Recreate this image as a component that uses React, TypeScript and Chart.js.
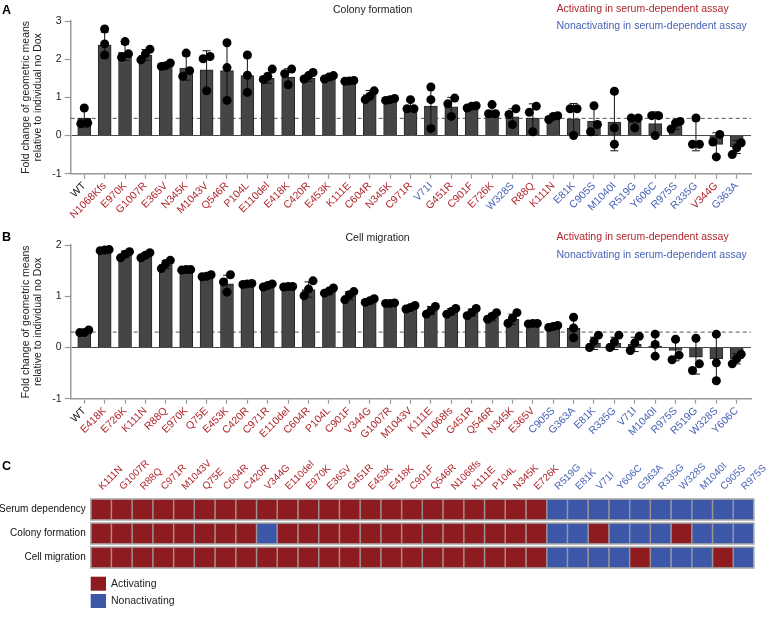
import React, { useEffect, useRef } from 'react';
import { Chart, registerables } from 'chart.js';

Chart.register(...registerables);

const FONT = '"Liberation Sans", Arial, Helvetica, sans-serif';
const RED = '#b0262c';
const BLUE = '#4863b6';
const CELL_RED = '#8e1b1f';
const CELL_BLUE = '#3d57a8';

// ---------- Panel A: Colony formation ----------
const aLabels = ['WT', 'N1068Kfs', 'E970K', 'G1007R', 'E365V', 'N345K', 'M1043V', 'Q546R', 'P104L', 'E110del', 'E418K', 'C420R', 'E453K', 'K111E', 'C604R', 'N345K', 'C971R', 'V71I', 'G451R', 'C901F', 'E726K', 'W328S', 'R88Q', 'K111N', 'E81K', 'C905S', 'M1040I', 'R519G', 'Y606C', 'R975S', 'R335G', 'V344G', 'G363A'];
const aClass = ['W', 'A', 'A', 'A', 'A', 'A', 'A', 'A', 'A', 'A', 'A', 'A', 'A', 'A', 'A', 'A', 'A', 'N', 'A', 'A', 'A', 'N', 'A', 'A', 'N', 'N', 'N', 'N', 'N', 'N', 'N', 'A', 'N'];
const aMeans = [0.45, 2.37, 2.18, 2.11, 1.85, 1.77, 1.72, 1.70, 1.57, 1.50, 1.53, 1.50, 1.49, 1.43, 1.07, 0.94, 0.77, 0.77, 0.75, 0.75, 0.62, 0.49, 0.46, 0.49, 0.44, 0.37, 0.35, 0.35, 0.31, 0.26, 0.0, -0.23, -0.30];
const aSD = [0.23, 0.34, 0.21, 0.14, 0.05, 0.32, 0.50, 0.76, 0.49, 0.13, 0.22, 0.08, 0.05, 0.02, 0.11, 0.03, 0.14, 0.52, 0.25, 0.03, 0.14, 0.21, 0.37, 0.05, 0.40, 0.36, 0.75, 0.15, 0.31, 0.10, 0.40, 0.30, 0.17];
const aRep1 = [0.72, 2.79, 2.46, 2.26, 1.90, 2.16, 2.07, 2.43, 2.11, 1.74, 1.74, 1.65, 1.57, 1.44, 1.17, 0.97, 0.94, 1.27, 0.98, 0.72, 0.81, 0.70, 0.77, 0.52, 0.70, 0.78, 1.16, 0.46, 0.52, 0.37, 0.46, 0.03, -0.19];
const aRep2 = [0.31, 2.40, 2.05, 1.98, 1.83, 1.70, 2.01, 1.78, 1.58, 1.47, 1.62, 1.48, 1.48, 1.42, 1.03, 0.92, 0.70, 0.94, 0.83, 0.78, 0.57, 0.55, 0.61, 0.42, 0.70, 0.29, 0.20, 0.46, 0.52, 0.33, -0.23, -0.17, -0.32];
const aRep3 = [0.33, 2.11, 2.14, 2.14, 1.81, 1.55, 1.17, 0.92, 1.13, 1.55, 1.33, 1.57, 1.53, 1.43, 0.94, 0.94, 0.70, 0.18, 0.50, 0.77, 0.57, 0.29, 0.10, 0.50, 0.00, 0.10, -0.23, 0.20, 0.00, 0.17, -0.23, -0.56, -0.50];
const aYTicks = [-1, 0, 1, 2, 3];

// ---------- Panel B: Cell migration ----------
const bLabels = ['WT', 'E418K', 'E726K', 'K111N', 'R88Q', 'E970K', 'Q75E', 'E453K', 'C420R', 'C971R', 'E110del', 'C604R', 'P104L', 'C901F', 'V344G', 'G1007R', 'M1043V', 'K111E', 'N1068fs', 'G451R', 'Q546R', 'N345K', 'E365V', 'C905S', 'G363A', 'E81K', 'R335G', 'V71I', 'M1040I', 'R975S', 'R519G', 'W328S', 'Y606C'];
const bClass = ['W', 'A', 'A', 'A', 'A', 'A', 'A', 'A', 'A', 'A', 'A', 'A', 'A', 'A', 'A', 'A', 'A', 'A', 'A', 'A', 'A', 'A', 'A', 'N', 'N', 'N', 'N', 'N', 'N', 'N', 'N', 'N', 'N'];
const bMeans = [0.30, 1.90, 1.82, 1.80, 1.62, 1.52, 1.40, 1.24, 1.24, 1.21, 1.19, 1.13, 1.08, 1.01, 0.90, 0.86, 0.78, 0.72, 0.70, 0.68, 0.59, 0.55, 0.47, 0.41, 0.38, 0.08, 0.08, 0.06, 0.02, -0.06, -0.19, -0.22, -0.22];
const bSD = [0.03, 0.01, 0.06, 0.05, 0.08, 0.01, 0.02, 0.17, 0.01, 0.03, 0.01, 0.15, 0.05, 0.08, 0.04, 0.01, 0.04, 0.08, 0.06, 0.07, 0.07, 0.10, 0.01, 0.02, 0.20, 0.12, 0.12, 0.14, 0.21, 0.20, 0.33, 0.46, 0.10];
const bRep1 = [0.34, 1.90, 1.87, 1.85, 1.70, 1.52, 1.42, 1.42, 1.25, 1.24, 1.19, 1.30, 1.16, 1.09, 0.95, 0.87, 0.82, 0.80, 0.76, 0.76, 0.68, 0.68, 0.47, 0.43, 0.59, 0.24, 0.24, 0.22, 0.26, 0.16, 0.18, 0.26, -0.13];
const bRep2 = [0.29, 1.91, 1.75, 1.75, 1.64, 1.51, 1.39, 1.28, 1.24, 1.18, 1.19, 1.14, 1.06, 0.93, 0.88, 0.86, 0.75, 0.65, 0.65, 0.62, 0.55, 0.47, 0.47, 0.39, 0.38, 0.12, 0.11, 0.09, 0.06, -0.15, -0.32, -0.30, -0.22];
const bRep3 = [0.29, 1.89, 1.82, 1.80, 1.54, 1.52, 1.38, 1.08, 1.23, 1.21, 1.18, 1.01, 1.10, 1.03, 0.91, 0.86, 0.78, 0.72, 0.70, 0.68, 0.61, 0.57, 0.46, 0.41, 0.19, 0.00, 0.00, -0.06, -0.17, -0.24, -0.45, -0.65, -0.32];
const bYTicks = [-1, 0, 1, 2];

// ---------- Panel C: heatmap (1 = activating, 0 = nonactivating) ----------
const cLabels = ['K111N', 'G1007R', 'R88Q', 'C971R', 'M1043V', 'Q75E', 'C604R', 'C420R', 'V344G', 'E110del', 'E970K', 'E365V', 'G451R', 'E453K', 'E418K', 'C901F', 'Q546R', 'N1068fs', 'K111E', 'P104L', 'N345K', 'E726K', 'R519G', 'E81K', 'V71I', 'Y606C', 'G363A', 'R335G', 'W328S', 'M1040I', 'C905S', 'R975S'];
const cRowNames = ['Serum dependency', 'Colony formation', 'Cell migration'];
const cSerum = [1, 1, 1, 1, 1, 1, 1, 1, 1, 1, 1, 1, 1, 1, 1, 1, 1, 1, 1, 1, 1, 1, 0, 0, 0, 0, 0, 0, 0, 0, 0, 0];
const cColony = [1, 1, 1, 1, 1, 1, 1, 1, 0, 1, 1, 1, 1, 1, 1, 1, 1, 1, 1, 1, 1, 1, 0, 0, 1, 0, 0, 0, 1, 0, 0, 0];
const cMigration = [1, 1, 1, 1, 1, 1, 1, 1, 1, 1, 1, 1, 1, 1, 1, 1, 1, 1, 1, 1, 1, 1, 0, 0, 0, 0, 1, 0, 0, 0, 1, 0];
const cLegend = ['Activating', 'Nonactivating'];

const classColor = (c: string) => (c === 'A' ? RED : c === 'N' ? BLUE : '#111');

function buildDots(reps: number[][], thr: number) {
  const pts: { x: number; y: number }[] = [];
  const n = reps[0].length;
  for (let i = 0; i < n; i++) {
    const vals = reps.map((r) => r[i]);
    const order = vals.map((_, k) => k).sort((p, q) => vals[p] - vals[q]);
    const clusters: number[][] = [];
    let cur = [order[0]];
    for (let k = 1; k < order.length; k++) {
      if (vals[order[k]] - vals[order[k - 1]] < thr) cur.push(order[k]);
      else {
        clusters.push(cur);
        cur = [order[k]];
      }
    }
    clusters.push(cur);
    clusters.forEach((cl) => {
      const step = cl.length === 2 ? 0.34 : 0.22;
      cl.forEach((k, j) => {
        const off = cl.length === 1 ? 0 : (j - (cl.length - 1) / 2) * step;
        pts.push({ x: i + off, y: vals[k] });
      });
    });
  }
  return pts;
}

function decorPlugin(d: { letter: string; letterY: number; title: string; titleX: number; titleY: number; legY: number }) {
  return {
    id: 'decor',
    afterDraw(chart: any) {
      const ctx = chart.ctx;
      ctx.save();
      ctx.textAlign = 'left';
      ctx.textBaseline = 'alphabetic';
      ctx.fillStyle = '#000';
      ctx.font = `bold 12.5px ${FONT}`;
      ctx.fillText(d.letter, 2, d.letterY);
      ctx.textBaseline = 'middle';
      ctx.font = `10.5px ${FONT}`;
      ctx.fillStyle = '#222';
      ctx.fillText(d.title, d.titleX, d.titleY);
      ctx.fillStyle = RED;
      ctx.fillText('Activating in serum-dependent assay', 556.5, d.legY);
      ctx.fillStyle = BLUE;
      ctx.fillText('Nonactivating in serum-dependent assay', 556.5, d.legY + 17.5);
      ctx.restore();
    },
  };
}

function statsPlugin(means: number[], sds: number[]) {
  return {
    id: 'stats',
    beforeDatasetsDraw(chart: any) {
      const { ctx, chartArea, scales } = chart;
      const y = scales.y.getPixelForValue(means[0]);
      ctx.save();
      ctx.strokeStyle = '#555';
      ctx.lineWidth = 1;
      ctx.setLineDash([4, 3]);
      ctx.beginPath();
      ctx.moveTo(chartArea.left, y);
      ctx.lineTo(chartArea.right, y);
      ctx.stroke();
      ctx.restore();
    },
    afterDatasetDraw(chart: any, args: any) {
      if (args.index !== 0) return;
      const { ctx, scales } = chart;
      ctx.save();
      ctx.strokeStyle = '#111';
      ctx.lineWidth = 1;
      means.forEach((m, i) => {
        const x = scales.x.getPixelForValue(i);
        const yt = scales.y.getPixelForValue(m + sds[i]);
        const yb = scales.y.getPixelForValue(m - sds[i]);
        ctx.beginPath();
        ctx.moveTo(x, yb);
        ctx.lineTo(x, yt);
        ctx.moveTo(x - 4, yt);
        ctx.lineTo(x + 4, yt);
        ctx.moveTo(x - 4, yb);
        ctx.lineTo(x + 4, yb);
        ctx.stroke();
      });
      ctx.restore();
    },
  };
}

function barConfig(p: any) {
  const { labels, cls, means, sds, reps, yTicks, padTop, height, areaBottom, thr, decor } = p;
  return {
    type: 'bar',
    data: {
      datasets: [
        {
          type: 'bar',
          data: means.map((m: number, i: number) => ({ x: i, y: m })),
          backgroundColor: '#454545',
          borderColor: '#262626',
          borderWidth: 1,
          barThickness: 13,
          order: 2,
        },
        {
          type: 'scatter',
          data: buildDots(reps, thr),
          backgroundColor: '#000',
          pointRadius: 4.5,
          borderWidth: 0,
          order: 1,
        },
      ],
    },
    options: {
      responsive: false,
      animation: false,
      devicePixelRatio: 1,
      events: [],
      layout: { padding: { left: 0, right: 17, top: padTop, bottom: 0 } },
      plugins: { legend: { display: false }, tooltip: { enabled: false } },
      scales: {
        x: {
          type: 'linear',
          min: -0.665,
          max: labels.length - 0.3,
          offset: false,
          afterBuildTicks: (s: any) => {
            s.ticks = labels.map((_: string, i: number) => ({ value: i }));
          },
          afterFit: (s: any) => {
            s.height = height - areaBottom;
            s.paddingLeft = 0;
            s.paddingRight = 0;
          },
          ticks: {
            autoSkip: false,
            minRotation: 45,
            maxRotation: 45,
            padding: 1,
            font: { family: FONT, size: 10.5 },
            color: (ctx: any) => classColor(cls[ctx.index]),
            callback: (_v: any, i: number) => labels[i],
          },
          grid: { drawOnChartArea: false, offset: false, tickLength: 5, tickColor: '#999', tickWidth: 1.2 },
          border: { color: '#999', width: 1.5 },
        },
        y: {
          type: 'linear',
          min: yTicks[0],
          max: yTicks[yTicks.length - 1],
          afterBuildTicks: (s: any) => {
            s.ticks = yTicks.map((v: number) => ({ value: v }));
          },
          afterFit: (s: any) => {
            s.width = 70.7;
            s.paddingTop = 0;
            s.paddingBottom = 0;
          },
          ticks: { font: { family: FONT, size: 10.5 }, color: '#222', padding: 3 },
          grid: {
            color: (ctx: any) => (ctx.tick && ctx.tick.value === 0 ? '#4a4a4a' : 'rgba(0,0,0,0)'),
            tickColor: '#999',
            tickLength: 6,
            tickWidth: 1.2,
            lineWidth: 1,
          },
          border: { color: '#999', width: 1.5 },
          title: {
            display: true,
            text: ['Fold change of geometric means', 'relative to individual no Dox'],
            font: { family: FONT, size: 10.5 },
            color: '#222',
            padding: { top: 19.5, bottom: 0 },
          },
        },
      },
    },
    plugins: [statsPlugin(means, sds), decorPlugin(decor)],
  };
}

const C_SHIFT = 15;

const heatPlugin = {
  id: 'heatDecor',
  afterDatasetsDraw(chart: any) {
    const { ctx, scales } = chart;
    ctx.save();
    ctx.strokeStyle = '#aaaaaa';
    ctx.lineWidth = 1.3;
    for (let r = 0; r < 3; r++) {
      const top = scales.y.getPixelForValue(2 - r + 0.94);
      const bot = scales.y.getPixelForValue(2 - r + 0.06);
      ctx.strokeRect(scales.x.left, top, scales.x.right - scales.x.left, bot - top);
    }
    ctx.restore();
  },
  afterDraw(chart: any) {
    const ctx = chart.ctx;
    ctx.save();
    ctx.fillStyle = '#000';
    ctx.font = `bold 12.5px ${FONT}`;
    ctx.textBaseline = 'alphabetic';
    ctx.fillText('C', 2, 10 + C_SHIFT);
    const cols = [CELL_RED, CELL_BLUE];
    cLegend.forEach((t, k) => {
      const y = 116.7 + C_SHIFT + k * 17.3;
      ctx.fillStyle = cols[k];
      ctx.fillRect(90.7, y, 15.3, 14);
      ctx.fillStyle = '#222';
      ctx.font = `10.5px ${FONT}`;
      ctx.textBaseline = 'middle';
      ctx.fillText(t, 111, y + 7.3);
    });
    ctx.restore();
  },
};

function heatConfig() {
  const rows = [cSerum, cColony, cMigration];
  return {
    type: 'bar',
    data: {
      labels: cLabels,
      datasets: rows.map((row, r) => ({
        data: row.map(() => [2 - r + 0.06, 2 - r + 0.94]),
        backgroundColor: row.map((v) => (v === 1 ? CELL_RED : CELL_BLUE)),
        borderColor: 'rgba(25,0,0,0.35)',
        borderWidth: 1,
        borderSkipped: false,
        grouped: false,
        barPercentage: 1,
        categoryPercentage: 1,
      })),
    },
    options: {
      responsive: false,
      animation: false,
      devicePixelRatio: 1,
      events: [],
      layout: { padding: { left: 0, right: 14, top: 0, bottom: 157 - 109.5 } },
      plugins: { legend: { display: false }, tooltip: { enabled: false } },
      scales: {
        x: {
          type: 'category',
          position: 'top',
          offset: true,
          grid: { display: false, drawTicks: false },
          border: { display: false },
          afterFit: (s: any) => {
            s.height = 37.5 + C_SHIFT;
            s.paddingLeft = 0;
            s.paddingRight = 0;
          },
          ticks: {
            autoSkip: false,
            minRotation: 45,
            maxRotation: 45,
            padding: 5,
            labelOffset: 8,
            font: { family: FONT, size: 10 },
            color: (ctx: any) => (cSerum[ctx.index] === 1 ? RED : BLUE),
          },
        },
        y: {
          type: 'linear',
          min: 0,
          max: 3,
          grid: { display: false, drawTicks: false },
          border: { display: false },
          afterBuildTicks: (s: any) => {
            s.ticks = [0.5, 1.5, 2.5].map((v) => ({ value: v }));
          },
          afterFit: (s: any) => {
            s.width = 90.7;
            s.paddingTop = 0;
            s.paddingBottom = 0;
          },
          ticks: {
            font: { family: FONT, size: 10 },
            color: '#111',
            padding: 5,
            callback: (v: number) => cRowNames[Math.round(2.5 - v)],
          },
        },
      },
    },
    plugins: [heatPlugin],
  };
}

function ChartCanvas({ top, height, build }: { top: number; height: number; build: () => any }) {
  const ref = useRef<HTMLCanvasElement | null>(null);
  useEffect(() => {
    const chart = new Chart(ref.current as HTMLCanvasElement, build());
    return () => chart.destroy();
  }, []);
  return (
    <canvas
      ref={ref}
      width={768}
      height={height}
      style={{ position: 'absolute', left: 0, top, width: 768, height, display: 'block' }}
    />
  );
}

export default function App() {
  const cfgA = () =>
    barConfig({
      labels: aLabels,
      cls: aClass,
      means: aMeans,
      sds: aSD,
      reps: [aRep1, aRep2, aRep3],
      yTicks: aYTicks,
      padTop: 21,
      height: 232,
      areaBottom: 173.7,
      thr: 0.23,
      decor: { letter: 'A', letterY: 14, title: 'Colony formation', titleX: 333, titleY: 10, legY: 9 },
    });
  const cfgB = () =>
    barConfig({
      labels: bLabels,
      cls: bClass,
      means: bMeans,
      sds: bSD,
      reps: [bRep1, bRep2, bRep3],
      yTicks: bYTicks,
      padTop: 13,
      height: 228,
      areaBottom: 166.7,
      thr: 0.17,
      decor: { letter: 'B', letterY: 9, title: 'Cell migration', titleX: 345.5, titleY: 6, legY: 5.5 },
    });
  return (
    <div style={{ position: 'fixed', left: 0, top: 0, width: 768, height: 617, background: '#fff', overflow: 'hidden' }}>
      <ChartCanvas top={0} height={232} build={cfgA} />
      <ChartCanvas top={232} height={228} build={cfgB} />
      <ChartCanvas top={460 - C_SHIFT} height={157 + C_SHIFT} build={heatConfig} />
    </div>
  );
}
